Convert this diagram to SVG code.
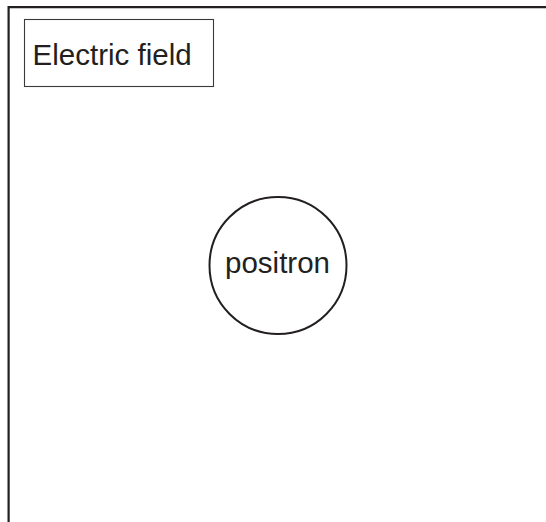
<svg xmlns="http://www.w3.org/2000/svg" width="546" height="522" viewBox="0 0 546 522">
<style>
.frame{fill:none;stroke:#231f20;stroke-width:2.2}
.box{fill:#fff;stroke:#3a3a3a;stroke-width:1.1}
.circ{fill:#fff;stroke:#231f20;stroke-width:2}
.lbl{font-family:"Liberation Sans",Arial,sans-serif;font-size:29.5px;fill:#231f20}
</style>
<rect width="546" height="522" fill="#fff"/>
<path class="frame" d="M8.6,522 V7.2 H546"/>
<g id="electric-field">
<rect class="box" x="24.5" y="19.5" width="189" height="67"/>
<text class="lbl" x="32.6" y="64.5">Electric field</text>
</g>
<g id="positron">
<circle class="circ" cx="278" cy="265.5" r="68.5"/>
<text class="lbl" x="277.5" y="272.5" text-anchor="middle">positron</text>
</g>
<g id="connectors"></g>
</svg>
